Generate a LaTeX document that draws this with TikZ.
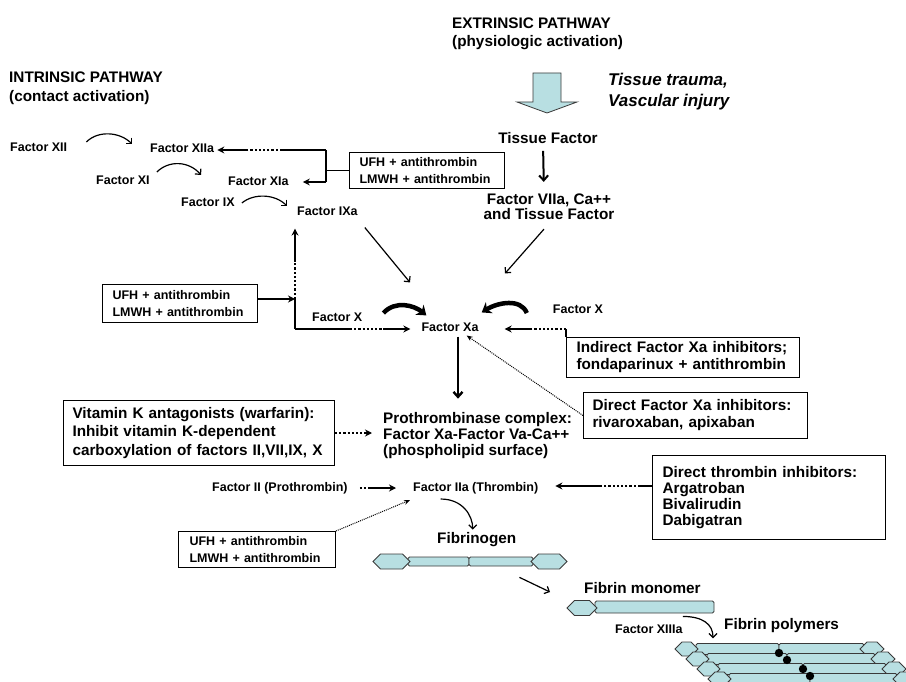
\documentclass[tikz,border=0pt]{standalone}
\usepackage{fontspec}
\setmainfont{Liberation Sans}
\usepackage{tikz}
\usetikzlibrary{arrows.meta}
\definecolor{fibrinBlue}{HTML}{B8DFE2}
\definecolor{edgeGray}{HTML}{3A3A3A}

\newcommand{\fibhex}[4]{%
  \filldraw[molecule] ({#1},{#3}) -- ({#1+#4/2},{#3-#4/2}) -- ({#2-#4/2},{#3-#4/2})
    -- ({#2},{#3}) -- ({#2-#4/2},{#3+#4/2}) -- ({#1+#4/2},{#3+#4/2}) -- cycle;}
\newcommand{\fibrod}[4]{%
  \filldraw[molecule, rounded corners=1.5pt] ({#1},{#3-#4/2}) rectangle ({#2},{#3+#4/2});}

\begin{document}
\begin{tikzpicture}[x=1pt, y=-1pt,
    factorlbl/.style={font=\fontsize{12.5}{17}\selectfont\bfseries, inner sep=0pt, align=left},
    biglbl/.style={font=\fontsize{15.3}{17}\selectfont\bfseries, inner sep=0pt, align=left},
    drugbox/.style={draw, line width=1pt, anchor=north west, align=left},
    molecule/.style={fill=fibrinBlue, draw=edgeGray, line width=0.8pt},
    boldline/.style={line width=2.2pt},
    boldtip/.style={-{Stealth[length=7pt,width=7pt]}},
    plaintip/.style={line width=2pt, -{Straight Barb[length=5pt,width=9pt]}},
    thinarrow/.style={line width=1.2pt, -{Straight Barb[length=4pt,width=8pt]}},
    dotarrow/.style={line width=1pt, densely dotted, -{Stealth[length=6pt,width=5pt]}},
    bigcurve/.style={line width=4.5pt, -{Stealth[length=9pt,width=13pt]}}]
    \useasboundingbox (0,0) rectangle (906,682);

    \node[biglbl, anchor=west, font=\fontsize{15.3}{19}\selectfont\bfseries] (intr) at (9,88) {INTRINSIC PATHWAY\\(contact activation)};
    \node[biglbl, anchor=west, font=\fontsize{15.3}{18}\selectfont\bfseries] (extr) at (452,34) {EXTRINSIC PATHWAY\\(physiologic activation)};
    \node[anchor=west, inner sep=0pt, align=left, font=\fontsize{17}{21}\selectfont\bfseries\itshape] (injury) at (608,92) {Tissue trauma,\\Vascular injury};
    \filldraw[fill=fibrinBlue, draw=edgeGray, line width=0.8pt] (533,73) -- (561,73) -- (561,102) -- (577,102)
        -- (547,113) -- (517,102) -- (533,102) -- cycle;
    \node[biglbl] (tf) at (548,138) {Tissue Factor};
    \node[biglbl, align=center, font=\fontsize{15.3}{15}\selectfont\bfseries] (f7a) at (549,207) {Factor VIIa, Ca++\\and Tissue Factor};
    \draw[plaintip] ([xshift=-5pt]tf.south) -- ([xshift=-5pt]f7a.north) [shorten <=7pt, shorten >=12pt];

    \node[factorlbl, anchor=west] (f12) at (10,147) {Factor XII};
    \node[factorlbl, anchor=west] (f12a) at (150,148) {Factor XIIa};
    \node[factorlbl, anchor=west] (f11) at (96,180) {Factor XI};
    \node[factorlbl, anchor=west] (f11a) at (228,181) {Factor XIa};
    \node[factorlbl, anchor=west] (f9) at (181,202) {Factor IX};
    \node[factorlbl, anchor=west] (f9a) at (297,211) {Factor IXa};
    \draw[thinarrow] ([shift={(19,-5)}]f12.east) .. controls +(12,-12) and +(-12,-12) .. ([shift={(-18,-4)}]f12a.west);
    \draw[thinarrow] ([shift={(7,-8)}]f11.east) .. controls +(12,-12) and +(-12,-14) .. ([shift={(-27,-6)}]f11a.west);
    \draw[thinarrow] ([shift={(7,1)}]f9.east) .. controls +(12,-10) and +(-12,-12) .. ([shift={(-10,-5)}]f9a.west);

    \node[drugbox, factorlbl, inner xsep=10pt, text width=135pt, minimum height=36pt] (ufhA) at (349,152) {UFH + antithrombin\\LMWH + antithrombin};
    \coordinate (brT) at (326,150);
    \coordinate (brB) at (326,182);
    \coordinate (dotA) at (282,150);
    \coordinate (dotB) at (247,150);
    \draw[line width=1pt] (ufhA.west) -- (ufhA.west -| brT);
    \draw[boldline] (brT) -- (brB);
    \draw[boldline] (brT) -- (dotA);
    \draw[boldline, dotted] (dotA) -- (dotB);
    \draw[boldline, boldtip] (dotB) -- (dotB -| f12a.east) [shorten >=3pt];
    \draw[boldline, boldtip] (brB) -- (brB -| f11a.east) [shorten >=14pt];

    \node[factorlbl, anchor=west] (fxl) at (312,317) {Factor X};
    \node[factorlbl] (fxa) at (450,327) {Factor Xa};
    \node[factorlbl] (fxr) at (578,309) {Factor X};
    \draw[thinarrow] ([shift={(7,12)}]f9a.south east) -- ([shift={(-40,-40)}]fxa.north);
    \draw[thinarrow] ([shift={(-5,9)}]f7a.south) -- ([shift={(55,-49)}]fxa.north);
    \draw[bigcurve] ([shift={(21,-4)}]fxl.east) .. controls +(12,-13) and +(-12,-10) .. ([shift={(5,-7)}]fxa.north west);
    \draw[bigcurve] ([shift={(-26,4)}]fxr.west) .. controls +(-6,-15) and +(16,-10) .. ([shift={(3,-10)}]fxa.north east);

    \node[drugbox, factorlbl, inner xsep=10pt, text width=135pt, minimum height=38pt] (ufhB) at (102,284) {UFH + antithrombin\\LMWH + antithrombin};
    \coordinate (jB) at (295,299);
    \coordinate (cB) at (295,329);
    \coordinate (vB) at (295,262);
    \coordinate (hB) at (350,329);
    \coordinate (hC) at (383,329);
    \draw[boldline, boldtip] (ufhB.east |- jB) -- (jB);
    \draw[boldline] (cB) -- (jB);
    \draw[boldline, dotted] (jB) -- (vB);
    \draw[boldline, boldtip] (vB) -- (vB |- f9a.south) [shorten >=13pt];
    \draw[boldline] (cB) -- (hB);
    \draw[boldline, dotted] (hB) -- (hC);
    \draw[boldline, boldtip] (hC) -- (hC -| fxa.west) [shorten >=11pt];

    \node[drugbox, biglbl, inner xsep=10pt, text width=213pt, minimum height=40pt] (ind) at (566,337) {Indirect Factor Xa inhibitors;\\fondaparinux + antithrombin};
    \coordinate (rC) at (566,329);
    \coordinate (rD) at (530,329);
    \draw[boldline] (ind.north west) -- (rC);
    \draw[boldline, dotted] (rC) -- (rD);
    \draw[boldline, boldtip] (rD) -- (rD -| fxa.east) [shorten >=26pt];

    \node[drugbox, biglbl, inner xsep=9pt, text width=206pt, minimum height=46pt] (dxa) at (583,392) {Direct Factor Xa inhibitors:\\rivaroxaban, apixaban};
    \draw[dotarrow] (dxa.west) -- ([shift={(-12,4)}]fxa.south east);

    \node[biglbl, anchor=west, font=\fontsize{15.3}{16}\selectfont\bfseries] (pt) at (383,436) {Prothrombinase complex:\\Factor Xa-Factor Va-Ca++\\(phospholipid surface)};
    \draw[plaintip, line width=2.4pt] ([xshift=8pt]fxa.south) -- ([xshift=8pt]fxa.south |- pt.north) [shorten <=5pt, shorten >=14pt];

    \node[drugbox, biglbl, inner xsep=9pt, text width=253pt, minimum height=65pt, font=\fontsize{15.3}{18.5}\selectfont\bfseries] (vitK) at (63,400) {Vitamin K antagonists (warfarin):\\Inhibit vitamin K-dependent\\carboxylation of factors II,VII,IX, X};
    \draw[boldline, dotted, boldtip] (vitK.east) -- (vitK.east -| pt.west) [shorten >=11pt];

    \node[factorlbl, anchor=west] (f2) at (212,488) {Factor II (Prothrombin)};
    \node[factorlbl, anchor=west] (f2a) at (413,488) {Factor IIa (Thrombin)};
    \draw[boldline, dotted] ([xshift=12pt]f2.east) -- ([xshift=20pt]f2.east);
    \draw[boldline, boldtip] ([xshift=20pt]f2.east) -- ([xshift=-17pt]f2a.west);

    \node[drugbox, biglbl, inner xsep=10pt, text width=213pt, minimum height=84pt, font=\fontsize{15.3}{16}\selectfont\bfseries] (dti) at (652,455) {Direct thrombin inhibitors:\\Argatroban\\Bivalirudin\\Dabigatran};
    \coordinate (tA) at (640,486);
    \coordinate (tB) at (600,486);
    \draw[boldline] (dti.west |- tA) -- (tA);
    \draw[boldline, dotted] (tA) -- (tB);
    \draw[boldline, boldtip] (tB) -- (tB -| f2a.east) [shorten >=17pt];

    \node[drugbox, factorlbl, inner xsep=11pt, text width=135pt, minimum height=36pt] (ufhC) at (178,531) {UFH + antithrombin\\LMWH + antithrombin};
    \draw[dotarrow] (ufhC.north east) -- ([shift={(-3,6)}]f2a.south west);

    \node[biglbl, anchor=west] (fbg) at (437,540) {Fibrinogen};
    \draw[thinarrow] ([shift={(-35,5)}]f2a.south) .. controls +(22,0) and +(0,-14) .. ([shift={(-4,-3)}]fbg.north);
    \fibrod{408}{469}{561.5}{9}
    \fibrod{469}{533}{561.5}{9}
    \fibhex{373}{410}{561.5}{15}
    \fibhex{531}{567}{561.5}{15}

    \node[biglbl, anchor=west] (fm) at (584,588) {Fibrin monomer};
    \draw[thinarrow] ([shift={(3,30)}]fbg.south east) -- ([shift={(-34,4)}]fm.west);
    \fibrod{595}{714}{607}{12}
    \fibhex{567}{597}{608}{15}

    \node[factorlbl, anchor=west] (f13) at (615,629) {Factor XIIIa};
    \node[biglbl, anchor=west] (fp) at (724,626) {Fibrin polymers};
    \draw[thinarrow] ([shift={(0,-8)}]f13.north east) .. controls +(20,0) and +(0,-14) .. ([shift={(-11,5)}]fp.south west);
    \foreach \i/\s in {0/779, 1/787, 2/803, 3/810} {
        \fibrod{696+11*\i}{\s}{649+10*\i}{11}
        \fibrod{\s}{864+11*\i}{649+10*\i}{11}
        \fibhex{675+11*\i}{698+11*\i}{649+10*\i}{14}
        \fibhex{860+11*\i}{884+11*\i}{649+10*\i}{14}
    }
    \foreach \s/\t in {779/653, 787/660, 803/669, 810/676}
        \fill (\s,\t) circle (4.2);
\end{tikzpicture}
\end{document}
